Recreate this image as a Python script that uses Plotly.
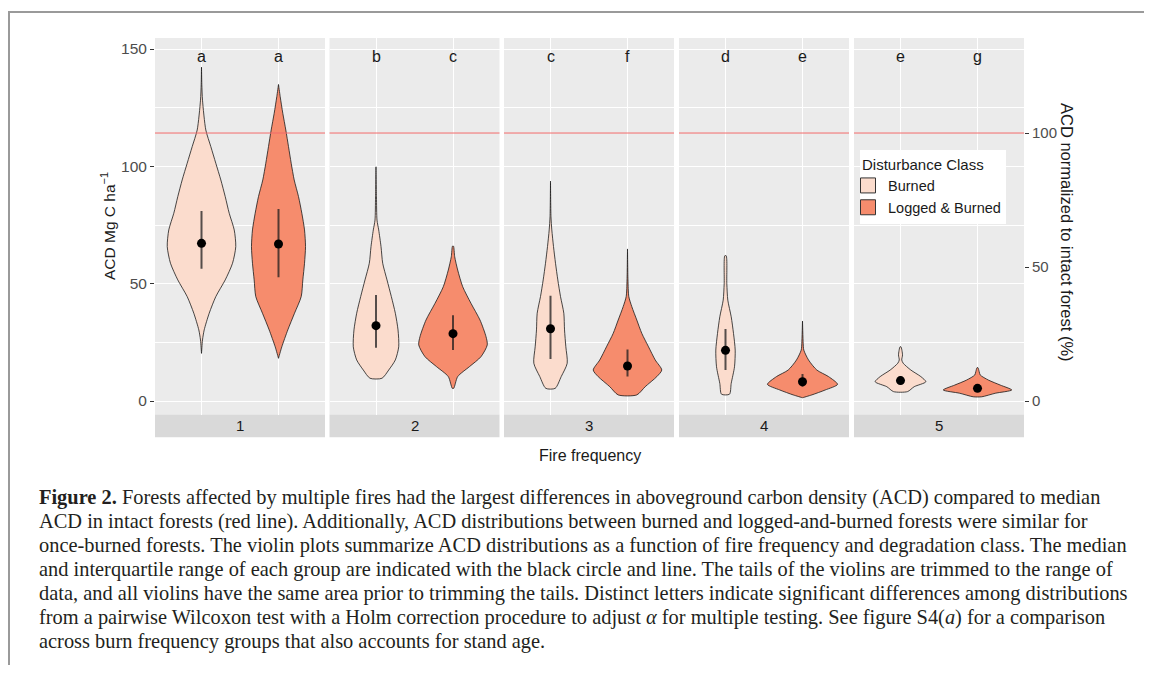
import plotly.graph_objects as go

# ---------------- data ----------------
FIRE_FREQ = ["1", "2", "3", "4", "5"]
CLASSES = ["Burned", "Logged & Burned"]
INTACT_MEDIAN = 114.2   # ACD of intact forest (red line) = 100 %

# violin profiles: ACD levels (top -> bottom) and half widths (x units)
B_Y = [
    [142.3, 135.0, 128.2, 115.5, 108.4, 101.3, 94.2, 87.1, 80.0, 72.9, 65.8, 58.7, 51.6, 44.5, 37.4, 30.3, 26.0, 20.3],
    [99.8, 87.0, 77.1, 72.9, 65.8, 58.7, 51.6, 44.5, 37.4, 30.3, 23.1, 17.5, 13.2, 9.7],
    [93.7, 78.5, 72.9, 65.8, 58.7, 51.6, 44.5, 37.4, 30.3, 23.1, 16.1, 10.4, 5.4],
    [61.9, 50.1, 43.0, 35.9, 28.8, 21.7, 14.6, 7.5, 2.9],
    [23.1, 19.6, 17.5, 16.1, 13.2, 10.4, 8.2, 6.1, 4.0],
]
B_W = [
    [0.0, 0.004, 0.013, 0.056, 0.121, 0.186, 0.251, 0.308, 0.360, 0.425, 0.445, 0.403, 0.308, 0.186, 0.100, 0.035, 0.013, 0.0],
    [0.0, 0.006, 0.013, 0.035, 0.065, 0.087, 0.143, 0.199, 0.251, 0.286, 0.295, 0.251, 0.165, 0.078],
    [0.0, 0.006, 0.017, 0.039, 0.065, 0.095, 0.130, 0.173, 0.182, 0.199, 0.217, 0.139, 0.061],
    [0.009, 0.017, 0.030, 0.074, 0.104, 0.126, 0.117, 0.074, 0.052],
    [0.006, 0.026, 0.016, 0.035, 0.134, 0.264, 0.329, 0.178, 0.091],
]
LB_Y = [
    [134.9, 129.7, 122.6, 115.5, 108.4, 101.3, 94.2, 87.1, 80.0, 72.9, 65.8, 58.7, 51.6, 44.5, 37.4, 30.3, 23.1, 18.2],
    [66.0, 61.5, 55.8, 48.7, 41.6, 34.5, 27.4, 23.9, 18.9, 14.6, 10.4, 5.4],
    [64.8, 51.6, 44.5, 40.2, 34.5, 28.8, 23.1, 17.5, 13.2, 10.4, 6.1, 2.6],
    [34.1, 24.6, 21.7, 17.5, 13.2, 10.4, 7.1, 4.7, 2.6, 1.4],
    [14.2, 12.5, 11.1, 8.9, 6.8, 4.7, 3.3, 1.8],
]
LB_W = [
    [0.0, 0.022, 0.056, 0.095, 0.130, 0.165, 0.204, 0.260, 0.303, 0.338, 0.351, 0.338, 0.316, 0.295, 0.208, 0.121, 0.043, 0.0],
    [0.006, 0.022, 0.061, 0.126, 0.234, 0.351, 0.429, 0.445, 0.364, 0.212, 0.061, 0.009],
    [0.0, 0.006, 0.017, 0.056, 0.121, 0.186, 0.273, 0.360, 0.445, 0.381, 0.230, 0.121],
    [0.0, 0.009, 0.017, 0.078, 0.186, 0.338, 0.455, 0.295, 0.121, 0.0],
    [0.006, 0.022, 0.035, 0.143, 0.295, 0.445, 0.230, 0.056],
]
B_MED = [67.2, 32.1, 30.8, 21.6, 8.7]
B_Q1 = [56.4, 22.7, 17.9, 13.2, 7.0]
B_Q3 = [81.0, 45.2, 44.9, 30.7, 10.5]
LB_MED = [66.9, 28.7, 14.9, 8.2, 5.4]
LB_Q1 = [52.7, 21.7, 10.4, 6.1, 4.2]
LB_Q3 = [81.8, 36.5, 22.0, 11.5, 6.5]
LETTERS_B = ["a", "b", "c", "d", "e"]
LETTERS_LB = ["a", "c", "f", "e", "g"]

CAPTION = [
    "<b>Figure 2.</b> Forests affected by multiple fires had the largest differences in aboveground carbon density (ACD) compared to median",
    "ACD in intact forests (red line). Additionally, ACD distributions between burned and logged-and-burned forests were similar for",
    "once-burned forests. The violin plots summarize ACD distributions as a function of fire frequency and degradation class. The median",
    "and interquartile range of each group are indicated with the black circle and line. The tails of the violins are trimmed to the range of",
    "data, and all violins have the same area prior to trimming the tails. Distinct letters indicate significant differences among distributions",
    "from a pairwise Wilcoxon test with a Holm correction procedure to adjust <i>α</i> for multiple testing. See figure S4(<i>a</i>) for a comparison",
    "across burn frequency groups that also accounts for stand age.",
]

# ---------------- styling ----------------
PAGE_W, PAGE_H = 1152, 673
OFF = 8                      # default body margin of the page
W, H = PAGE_W - 2 * OFF, PAGE_H - 2 * OFF
FILL = {"Burned": "#FBDCCD", "Logged & Burned": "#F68C6D"}
SANS = "Liberation Sans, Arial, sans-serif"
SERIF = "Liberation Serif, Times New Roman, serif"
PANEL_BG = "#EBEBEB"
Y_RANGE = [-5.75, 154.69]
X_RANGE = [-0.604, 1.604]


def px_x(p):
    return (p - OFF) / W


def px_y(p):
    return 1 - (p - OFF) / H


fig = go.Figure()

panel_left = [155, 329.5, 504, 679, 854]
panel_w = 170
y_dom = [px_y(414.5), px_y(38)]

for i in range(5):
    xa = f"x{i+1}" if i else "x"
    ya = f"y{i+1}" if i else "y"
    for j, (cls, ys, ws, med, q1, q3) in enumerate([
        ("Burned", B_Y[i], B_W[i], B_MED[i], B_Q1[i], B_Q3[i]),
        ("Logged & Burned", LB_Y[i], LB_W[i], LB_MED[i], LB_Q1[i], LB_Q3[i]),
    ]):
        c = j
        xs = [c + w for w in ws] + [c - w for w in ws[::-1]] + [c + ws[0]]
        yy = list(ys) + list(ys[::-1]) + [ys[0]]
        fig.add_trace(go.Scatter(
            x=xs, y=yy, mode="lines", fill="toself", fillcolor=FILL[cls],
            line=dict(color="#1a1a1a", width=0.8, shape="spline", smoothing=0.7),
            name=cls, showlegend=False,
            xaxis=xa, yaxis=ya, hoverinfo="skip"))
        fig.add_trace(go.Scatter(
            x=[c, c], y=[q1, q3], mode="lines",
            line=dict(color="rgba(30,30,30,0.75)", width=2),
            showlegend=False, xaxis=xa, yaxis=ya, hoverinfo="skip"))
        fig.add_trace(go.Scatter(
            x=[c], y=[med], mode="markers",
            marker=dict(color="black", size=9),
            showlegend=False, xaxis=xa, yaxis=ya, hoverinfo="skip"))

# legend keys (square swatches)
for cls in CLASSES:
    fig.add_trace(go.Scatter(
        x=[None], y=[None], mode="markers", name=cls,
        marker=dict(symbol="square", size=15, color=FILL[cls],
                    line=dict(color="#333333", width=1)),
        xaxis="x5", yaxis="y5", showlegend=True, hoverinfo="skip"))

layout = dict(
    width=W, height=H, paper_bgcolor="white", plot_bgcolor=PANEL_BG,
    margin=dict(l=0, r=0, t=0, b=0),
    font=dict(family=SANS, size=15, color="#1a1a1a"),
    showlegend=True,
    legend=dict(
        x=px_x(860), y=px_y(150), xanchor="left", yanchor="top",
        bgcolor="white", borderwidth=0, indentation=-12,
        title=dict(text="Disturbance Class", font=dict(size=15, color="#1a1a1a")),
        font=dict(size=14.5, color="#1a1a1a"), tracegroupgap=0, itemwidth=30,
    ),
)

annotations = []
shapes = []
for i in range(5):
    sfx = str(i + 1) if i else ""
    x0 = panel_left[i]
    layout["xaxis" + sfx] = dict(
        domain=[px_x(x0), px_x(x0 + panel_w)], range=X_RANGE,
        anchor="y" + sfx, tickvals=[0, 1], showticklabels=False, ticks="",
        showgrid=True, gridcolor="white", gridwidth=1.1, zeroline=False,
        showline=False, fixedrange=True)
    layout["yaxis" + sfx] = dict(
        domain=y_dom, range=Y_RANGE, anchor="x" + sfx,
        tickvals=[0, 50, 100, 150], showticklabels=(i == 0),
        ticks="outside" if i == 0 else "", ticklen=4, tickwidth=1,
        tickcolor="#333333", tickfont=dict(size=15.5, color="#4D4D4D"),
        showgrid=True, gridcolor="white", gridwidth=1.1, zeroline=False,
        minor=dict(tickvals=[25, 75, 125], showgrid=True,
                   gridcolor="white", gridwidth=0.5, ticks=""),
        showline=False, fixedrange=True)
    # strip
    shapes.append(dict(type="rect", xref=f"x{sfx} domain", yref=f"y{sfx} domain",
                       x0=0, x1=1, y0=-0.0606, y1=0, fillcolor="#D9D9D9",
                       line=dict(width=0), layer="below"))
    annotations.append(dict(text=FIRE_FREQ[i], xref=f"x{sfx} domain", yref=f"y{sfx} domain",
                            x=0.5, y=-0.0303, showarrow=False, yanchor="middle",
                            font=dict(size=15, color="#1a1a1a")))
    # intact-forest reference line
    shapes.append(dict(type="line", xref=f"x{sfx} domain", yref=f"y{sfx}",
                       x0=0, x1=1, y0=INTACT_MEDIAN, y1=INTACT_MEDIAN,
                       line=dict(color="#F36B6B", width=1), layer="above"))
    # significance letters
    for j, let in enumerate([LETTERS_B[i], LETTERS_LB[i]]):
        annotations.append(dict(text=let, xref=f"x{sfx}", yref=f"y{sfx}",
                                x=j, y=146.8, showarrow=False, yanchor="middle",
                                font=dict(size=16, color="#1a1a1a")))

# secondary (right) axis, percent of intact forest
layout["yaxis6"] = dict(
    overlaying="y5", anchor="x5", side="right",
    range=[v * 100 / INTACT_MEDIAN for v in Y_RANGE],
    tickvals=[0, 50, 100], ticks="outside", ticklen=4, tickwidth=1,
    tickcolor="#333333", tickfont=dict(size=15, color="#4D4D4D"),
    showgrid=False, zeroline=False, showline=False, fixedrange=True)
fig.add_trace(go.Scatter(x=[0.5], y=[50], mode="markers", marker=dict(opacity=0),
                         xaxis="x5", yaxis="y6", showlegend=False, hoverinfo="skip"))

# axis titles
annotations.append(dict(text="ACD Mg C ha<sup>−1</sup>", xref="paper", yref="paper",
                        x=px_x(108), y=px_y(226), textangle=-90, showarrow=False,
                        xanchor="center", yanchor="middle",
                        font=dict(size=15.5, color="#1a1a1a")))
annotations.append(dict(text="ACD normalized to intact forest (%)", xref="paper", yref="paper",
                        x=px_x(1067), y=px_y(232), textangle=90, showarrow=False,
                        xanchor="center", yanchor="middle",
                        font=dict(size=16.5, color="#1a1a1a")))
annotations.append(dict(text="Fire frequency", xref="paper", yref="paper",
                        x=px_x(589.5), y=px_y(455), showarrow=False,
                        xanchor="center", yanchor="middle",
                        font=dict(size=16, color="#1a1a1a")))

# caption
for k, line in enumerate(CAPTION):
    annotations.append(dict(text=line, xref="paper", yref="paper",
                            x=px_x(37), y=px_y(497 + 24 * k), showarrow=False,
                            xanchor="left", yanchor="middle",
                            font=dict(family=SERIF, size=20.4, color="#231F20")))

# outer frame
shapes.append(dict(type="line", xref="paper", yref="paper", x0=px_x(8), x1=1,
                   y0=px_y(12), y1=px_y(12), line=dict(color="#9A9A9A", width=2)))
shapes.append(dict(type="line", xref="paper", yref="paper", x0=px_x(9), x1=px_x(9),
                   y0=px_y(12), y1=0, line=dict(color="#9A9A9A", width=2)))

layout["annotations"] = annotations
layout["shapes"] = shapes
fig.update_layout(**layout)

fig.write_html("out.html", config={"displayModeBar": False})
